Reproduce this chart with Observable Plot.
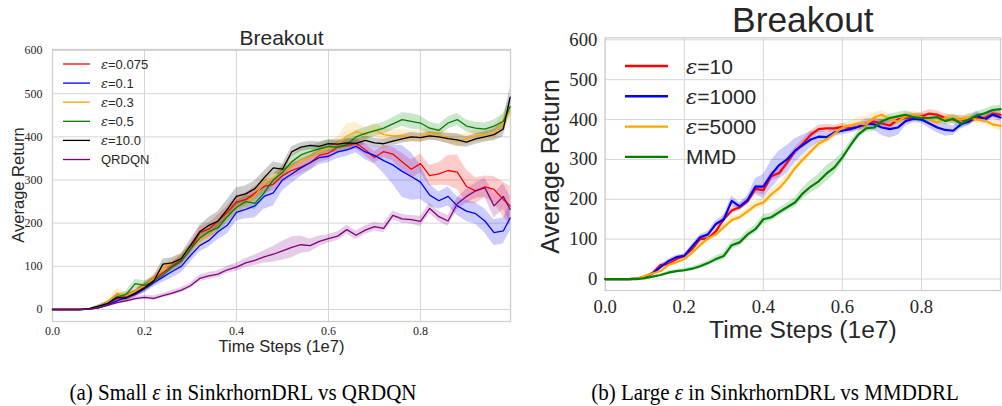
<!DOCTYPE html>
<html>
<head>
<meta charset="utf-8">
<script src="https://cdn.jsdelivr.net/npm/d3@7"></script>
<script src="https://cdn.jsdelivr.net/npm/@observablehq/plot@0.6"></script>
<style>
  html, body { margin: 0; padding: 0; background: #fff; overflow: hidden; }
  #page { position: relative; width: 1002px; height: 406px; overflow: hidden; background: #fff; }
  .panel { position: absolute; top: 0; }
  .caption { position: absolute; top: 380px; font-family: "Liberation Serif", serif; font-size: 21px; color: #000; white-space: nowrap; transform: translateX(-50%) scaleY(1.08); }
  #overlay { position: absolute; left: 0; top: 0; }
</style>
</head>
<body>
<div id="page"></div>
<script>
// ---------- (a) small epsilon vs QRDQN ----------
const stepsA = [0,0.02,0.04,0.06,0.08,0.10,0.12,0.14,0.16,0.18,0.20,0.22,0.24,0.26,0.28,0.30,0.32,0.34,0.36,0.38,0.40,0.42,0.44,0.46,0.48,0.50,0.52,0.54,0.56,0.58,0.60,0.62,0.64,0.66,0.68,0.70,0.72,0.74,0.76,0.78,0.80,0.82,0.84,0.86,0.88,0.90,0.92,0.94,0.96,0.98,0.995];
const namesA = ["ε=0.075", "ε=0.1", "ε=0.3", "ε=0.5", "ε=10.0", "QRDQN"];
const colorsA = ["#ff0000", "#0000ff", "#ffa500", "#008000", "#000000", "#800080"];

const returnA_eps0075 = [0,0,0,0,1,5,13,25,30,38,52,68,85,100,115,140,178,186,205,225,249,255,270,285,290,310,322,330,340,357,362,376,380,385,370,352,366,360,342,325,338,310,314,322,318,285,275,284,278,255,240];
const returnA_eps01   = [0,0,0,0,1,4,10,20,28,35,48,62,75,88,100,125,148,160,180,195,225,232,240,262,270,300,314,328,340,352,355,365,370,378,365,357,345,335,320,308,295,265,252,262,240,228,222,205,178,182,212];
const returnA_eps03   = [0,0,0,0,1,6,17,38,32,42,55,72,95,108,118,140,160,170,192,215,238,248,262,295,302,320,330,345,352,365,374,384,402,412,405,416,405,402,403,400,400,408,405,398,390,395,402,404,410,432,460];
const returnA_eps05   = [0,0,0,0,1,5,14,28,35,60,56,65,80,98,112,140,165,180,190,215,237,250,246,270,300,318,342,358,366,372,378,376,382,400,408,414,420,430,440,436,432,420,415,432,440,425,420,418,425,436,470];
const returnA_eps10   = [0,0,0,0,2,8,14,28,26,38,50,66,105,108,118,148,180,195,205,232,262,268,280,305,328,325,365,376,380,378,384,383,386,385,392,386,384,390,395,400,398,402,400,396,393,388,395,400,405,418,492];
const returnA_qrdqn   = [0,0,0,0,1,4,10,16,20,25,28,26,32,38,45,55,72,78,82,92,98,108,114,122,128,136,144,150,148,158,164,170,185,172,184,192,188,218,210,208,204,234,215,205,245,262,275,282,240,262,232];

const spreadA_eps0075 = [0,0,0,0,1,3,5,8,8,8,10,10,10,10,12,12,14,14,14,15,15,15,15,15,16,16,16,16,16,16,15,14,14,14,14,14,14,16,20,22,22,24,26,35,40,38,30,25,30,40,45];
const spreadA_eps01   = [0,0,0,0,1,3,5,8,8,8,10,10,12,15,15,15,15,15,18,20,20,22,28,30,30,25,22,20,18,16,15,15,15,15,18,20,30,45,60,55,40,25,20,22,22,24,25,28,30,30,30];
const spreadA_eps03   = [0,0,0,0,1,3,6,10,8,8,10,10,10,10,12,12,12,12,14,14,15,15,15,15,14,14,14,14,14,14,14,15,28,22,15,15,15,14,14,14,14,14,14,14,14,14,14,14,16,20,25];
const spreadA_eps05   = [0,0,0,0,1,3,5,8,8,10,10,10,10,10,12,12,12,12,14,14,15,15,15,15,14,14,14,14,14,14,14,14,14,14,14,14,14,14,16,18,16,14,14,14,14,14,14,14,14,18,22];
const spreadA_eps10   = [0,0,0,0,1,3,5,8,8,8,10,10,12,12,12,14,14,18,22,22,20,18,18,16,14,12,12,10,10,10,10,10,10,10,10,10,10,10,10,10,10,10,10,12,14,12,12,12,14,18,25];
const spreadA_qrdqn   = [0,0,0,0,1,2,3,4,4,4,5,5,5,6,6,6,8,8,8,8,10,10,12,14,18,22,24,20,15,12,10,10,10,10,10,10,10,10,10,10,12,12,12,12,14,16,18,22,28,30,30];

// ---------- (b) large epsilon vs MMD ----------
const stepsB = [0,0.02,0.04,0.06,0.08,0.10,0.12,0.14,0.16,0.18,0.20,0.22,0.24,0.26,0.28,0.30,0.32,0.34,0.36,0.38,0.40,0.42,0.44,0.46,0.48,0.50,0.52,0.54,0.56,0.58,0.60,0.62,0.64,0.66,0.68,0.70,0.72,0.74,0.76,0.78,0.80,0.82,0.84,0.86,0.88,0.90,0.92,0.94,0.96,0.98,1.0];
const namesB = ["ε=10", "ε=1000", "ε=5000", "MMD"];
const colorsB = ["#ff0000", "#0000ff", "#ffa500", "#008000"];

const returnB_eps10   = [0,0,0,0,1,5,15,35,38,50,58,75,100,102,120,150,172,180,195,226,223,258,266,292,320,340,362,376,378,378,382,378,382,388,395,390,385,400,404,405,408,415,412,404,400,400,396,405,404,415,412];
const returnB_eps1000 = [0,0,0,0,1,5,14,30,45,55,58,82,105,112,138,150,196,182,198,232,232,262,286,300,322,336,350,357,356,368,372,376,382,390,388,380,376,380,396,402,400,390,380,374,372,388,395,410,400,412,405];
const returnB_eps5000 = [0,0,0,0,1,8,14,20,35,42,50,66,85,102,112,130,148,155,170,185,192,212,228,250,278,300,320,340,350,365,380,385,390,388,405,412,400,395,408,410,406,400,392,404,402,400,405,400,398,388,384];
const returnB_mmd     = [0,0,0,0,0,2,6,10,16,20,22,26,32,40,50,58,85,92,112,125,150,155,168,180,192,215,232,245,265,280,305,335,362,378,380,396,404,408,412,406,404,404,406,396,402,390,400,410,416,424,426];

const spreadB_eps10   = [0,0,0,0,1,2,3,5,5,5,5,6,6,6,8,8,8,8,8,10,12,12,12,12,10,10,10,10,10,8,8,8,8,8,8,10,10,10,10,10,10,10,10,10,10,10,10,10,10,10,10];
const spreadB_eps1000 = [0,0,0,0,1,2,3,5,5,5,5,6,6,8,8,10,12,10,10,20,30,35,35,35,30,25,20,15,12,10,10,10,10,12,15,20,22,20,12,10,10,12,14,16,12,10,10,10,10,10,10];
const spreadB_eps5000 = [0,0,0,0,1,2,3,4,4,5,5,6,6,8,8,8,8,8,8,10,12,12,12,12,10,10,10,10,10,10,10,10,15,20,12,10,10,10,10,10,10,10,10,10,10,10,10,10,10,10,12];
const spreadB_mmd     = [0,0,0,0,0,1,2,3,4,4,5,5,6,6,8,10,10,10,10,10,12,10,10,10,12,14,16,18,20,18,12,10,10,10,10,10,10,10,10,10,10,10,10,10,12,14,14,10,10,10,10];

const xTicks = [0, 0.2, 0.4, 0.6, 0.8];
const yTicks = [0, 100, 200, 300, 400, 500, 600];

function toRows(steps, names, returns, spreads) {
  const rows = [];
  names.forEach((name, i) => {
    returns[i].forEach((v, j) => {
      const s = spreads[i][j];
      rows.push({series: name, t: steps[j], v, lo: v - s, hi: v + s});
    });
  });
  return rows;
}

const rowsA = toRows(stepsA, namesA,
  [returnA_eps0075, returnA_eps01, returnA_eps03, returnA_eps05, returnA_eps10, returnA_qrdqn],
  [spreadA_eps0075, spreadA_eps01, spreadA_eps03, spreadA_eps05, spreadA_eps10, spreadA_qrdqn]);
const rowsB = toRows(stepsB, namesB,
  [returnB_eps10, returnB_eps1000, returnB_eps5000, returnB_mmd],
  [spreadB_eps10, spreadB_eps1000, spreadB_eps5000, spreadB_mmd]);

const ink = "#262626";
const gridColor = "#d6d6d6";
const serif = "Liberation Serif, Times New Roman, serif";
const sans = "Liberation Sans, Arial, sans-serif";

function panel(rows, names, colors, o) {
  return Plot.plot({
    width: o.width, height: o.height,
    marginLeft: o.ml, marginRight: o.mr, marginTop: o.mt, marginBottom: o.mb,
    x: {domain: o.xDomain, axis: null},
    y: {domain: o.yDomain, axis: null},
    color: {domain: names, range: colors},
    style: {background: "transparent", color: ink, overflow: "visible"},
    marks: [
      Plot.gridX(xTicks, {stroke: gridColor, strokeOpacity: 1, strokeWidth: 1}),
      Plot.gridY(yTicks, {stroke: gridColor, strokeOpacity: 1, strokeWidth: 1}),
      Plot.frame({stroke: "#cfcfcf", strokeWidth: 1.3}),
      Plot.areaY(rows, {x: "t", y1: "lo", y2: "hi", z: "series", fill: "series", fillOpacity: 0.2}),
      Plot.line(rows, {x: "t", y: "v", z: "series", stroke: "series", strokeWidth: o.lw}),
      // tick labels (serif, as in the source figure)
      Plot.text(xTicks, {x: d => d, text: d => d3.format(".1f")(d), frameAnchor: "bottom", lineAnchor: "top", dy: o.xPad, fontFamily: serif, fontSize: o.tickFont, fill: ink}),
      Plot.text(yTicks, {y: d => d, text: d => String(d), frameAnchor: "left", textAnchor: "end", dx: -o.yPad, fontFamily: serif, fontSize: o.tickFont, fill: ink}),
      Plot.text(["Breakout"], {text: d => d, frameAnchor: "top", lineAnchor: "bottom", dy: o.titleDy, fontSize: o.titleFont, fontFamily: sans, fill: ink}),
      Plot.text(["Time Steps (1e7)"], {text: d => d, frameAnchor: "bottom", lineAnchor: "bottom", dy: o.xLabelDy, fontSize: o.labelFont, fontFamily: sans, fill: ink})
    ]
  });
}

const page = document.getElementById("page");

const chartA = panel(rowsA, namesA, colorsA, {
  width: 520, height: 360, ml: 52, mr: 10, mt: 49, mb: 39,
  xDomain: [0, 0.9957], yDomain: [-27.8, 602.3], lw: 1.3,
  tickFont: 12, xPad: 5, yPad: 10, titleFont: 21, titleDy: -5,
  labelFont: 16.5, xLabelDy: 30
});
const wrapA = document.createElement("div");
wrapA.className = "panel"; wrapA.style.left = "0px";
wrapA.appendChild(chartA);
page.appendChild(wrapA);

const chartB = panel(rowsB, namesB, colorsB, {
  width: 480, height: 360, ml: 76, mr: 2, mt: 38, mb: 65,
  xDomain: [0, 1.0], yDomain: [-28.9, 604.9], lw: 2.2,
  tickFont: 19, xPad: 9, yPad: 8, titleFont: 36, titleDy: -6,
  labelFont: 25, xLabelDy: 48
});
const wrapB = document.createElement("div");
wrapB.className = "panel"; wrapB.style.left = "530px";
wrapB.appendChild(chartB);
page.appendChild(wrapB);

// vertical axis titles and legends, drawn over both axes
const overlay = d3.select(page).append("svg")
  .attr("id", "overlay").attr("width", 1002).attr("height", 406);

function yTitle(cx, cy, size) {
  overlay.append("text")
    .attr("transform", `translate(${cx},${cy}) rotate(-90)`)
    .attr("text-anchor", "middle").attr("dy", "0.36em")
    .attr("font-family", sans).attr("font-size", size).attr("fill", ink)
    .text("Average Return");
}
yTitle(18.5, 185, 16.5);
yTitle(550, 166.5, 25);

function drawLegend(names, colors, o) {
  names.forEach((name, i) => {
    const y = o.y + i * o.rowH;
    overlay.append("line")
      .attr("x1", o.x).attr("x2", o.x + o.len).attr("y1", y).attr("y2", y)
      .attr("stroke", colors[i]).attr("stroke-width", o.lw);
    const t = overlay.append("text")
      .attr("x", o.textX).attr("y", y).attr("dy", "0.36em")
      .attr("font-family", sans).attr("font-size", o.font).attr("fill", ink);
    if (name.startsWith("ε")) {
      t.append("tspan").attr("font-style", "italic").attr("font-family", "DejaVu Serif").text("ε");
      t.append("tspan").text(name.slice(1));
    } else {
      t.text(name);
    }
  });
}
drawLegend(namesA, colorsA, {x: 63, len: 27, textX: 101, y: 64, rowH: 19.1, font: 13, lw: 1.3});
drawLegend(namesB, colorsB, {x: 625, len: 43, textX: 686, y: 66, rowH: 30.3, font: 21, lw: 2.4});

// captions
function caption(cx, before, after) {
  const d = document.createElement("div");
  d.className = "caption";
  d.style.left = cx + "px";
  d.append(before);
  const e = document.createElement("i");
  e.textContent = "ε";
  d.appendChild(e);
  d.append(after);
  page.appendChild(d);
}
caption(243, "(a) Small ", " in SinkrhornDRL vs QRDQN");
caption(775, "(b) Large ", " in SinkrhornDRL vs MMDDRL");
</script>
</body>
</html>
